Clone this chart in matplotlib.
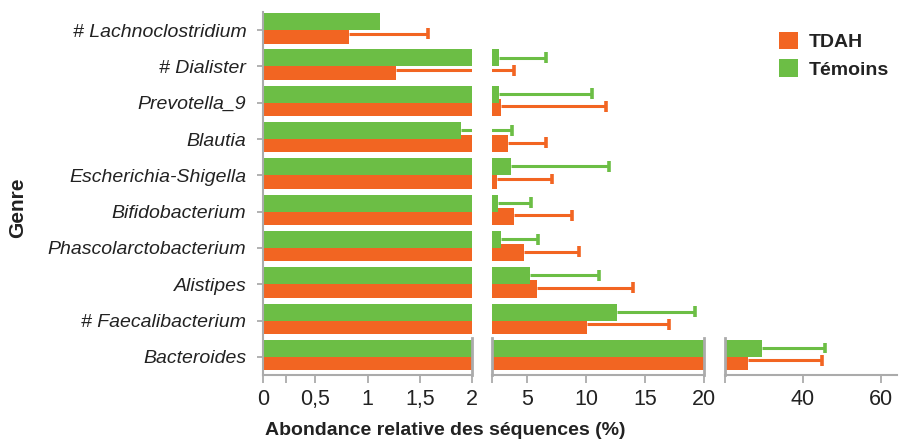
import numpy as np
import matplotlib
matplotlib.use("Agg")
import matplotlib.pyplot as plt
from matplotlib.patches import Patch

# ---- data ----
genera = ['# Lachnoclostridium', '# Dialister', 'Prevotella_9', 'Blautia',
          'Escherichia-Shigella', 'Bifidobacterium', 'Phascolarctobacterium',
          'Alistipes', '# Faecalibacterium', 'Bacteroides']
tdah = [0.82, 1.27, 2.8, 3.4, 2.4, 3.9, 4.7, 5.8, 10.1, 25.8]
tdah_upper = [1.58, 3.9, 11.7, 6.6, 7.1, 8.8, 9.4, 14.0, 17.0, 44.8]
temoins = [1.12, 2.6, 2.6, 1.89, 3.6, 2.5, 2.8, 5.2, 12.6, 29.4]
temoins_upper = [np.nan, 6.6, 10.5, 3.7, 11.9, 5.3, 5.9, 11.1, 19.2, 45.6]

series_labels = ['TDAH', 'Témoins']
panel_limits = [(0, 2), (2, 20), (20, 64.1)]
panel_ticks = [[0, 0.22, 0.5, 1, 1.5, 2], [2, 5, 10, 15, 20], [20, 40, 60]]
panel_ticklabels = [['0', '', '0,5', '1', '1,5', '2'], ['', '5', '10', '15', '20'], ['', '40', '60']]
xlabel = 'Abondance relative des séquences (%)'
ylabel = 'Genre'

ORANGE = '#F26522'
GREEN = '#6CBE45'
GRAY = '#ABABAB'
TXT = '#222222'

plt.rcParams['font.family'] = ['Liberation Sans', 'DejaVu Sans']

W, H = 899, 444
fig = plt.figure(figsize=(W / 100, H / 100), dpi=100)

def fx(px):
    return px / W

bottom = 1 - 375 / H
height = (375 - 12) / H
panel_px = [(263, 472), (492, 704), (725, 897)]

y = np.arange(len(genera))
g_h, o_top, o_bot = 0.468, 0.11, 0.37
cap = 0.15
err_lw = 2.2

axes = []
for k, ((x0, x1), lim) in enumerate(zip(panel_px, panel_limits)):
    ax = fig.add_axes([fx(x0), bottom, fx(x1 - x0), height])
    axes.append(ax)
    # orange (TDAH) under green (Témoins)
    ax.barh(y + (o_bot - o_top) / 2, tdah, height=o_top + o_bot, color=ORANGE,
            zorder=1, linewidth=0)
    ax.barh(y - g_h / 2, temoins, height=g_h, color=GREEN, zorder=2, linewidth=0)
    # one-sided error bars
    yo = y + 0.10
    yg = y - 0.245
    for vals, ups, yy, col in [(tdah, tdah_upper, yo, ORANGE), (temoins, temoins_upper, yg, GREEN)]:
        vals = np.asarray(vals, float)
        ups = np.asarray(ups, float)
        m = ~np.isnan(ups)
        ax.hlines(yy[m], vals[m], ups[m], color=col, lw=err_lw, zorder=3)
        ax.vlines(ups[m], yy[m] - cap, yy[m] + cap, color=col, lw=2.6, zorder=3)
    ax.set_xlim(*lim)
    ax.set_ylim(len(genera) - 0.5, -0.5)
    ax.set_xticks(panel_ticks[k])
    ax.set_xticklabels(panel_ticklabels[k])
    ax.tick_params(axis='x', length=6, width=1.3, color=GRAY, labelsize=15.5,
                   labelcolor=TXT, pad=4)
    for s in ax.spines.values():
        s.set_color(GRAY)
        s.set_linewidth(1.5)
    ax.spines['top'].set_visible(False)
    brk = (8.48, len(genera) - 0.5)
    if k == 0:
        ax.set_yticks(y)
        ax.set_yticklabels(genera, fontstyle='italic', fontsize=14, color=TXT)
        ax.tick_params(axis='y', length=4, width=1.3, color=GRAY, pad=8)
        ax.spines['right'].set_bounds(*brk)
        ax.spines['right'].set_linewidth(2)
    else:
        ax.set_yticks([])
        ax.spines['left'].set_bounds(*brk)
        ax.spines['left'].set_linewidth(2)
        if k == 1:
            ax.spines['right'].set_bounds(*brk)
            ax.spines['right'].set_linewidth(2)
        else:
            ax.spines['right'].set_visible(False)
    ax.set_facecolor('none')

fig.text(fx(445), 1 - 435 / H, xlabel, ha='center', va='baseline',
         fontsize=14, fontweight='bold', color=TXT)
fig.text(fx(18), 1 - 208 / H, ylabel, ha='center', va='center', rotation=90,
         fontsize=15, fontweight='bold', color=TXT)

handles = [Patch(facecolor=ORANGE, edgecolor='none'), Patch(facecolor=GREEN, edgecolor='none')]
leg = fig.legend(handles, series_labels, loc='upper left',
                 bbox_to_anchor=(fx(779), 1 - 32 / H), frameon=False,
                 borderpad=0, borderaxespad=0, handlelength=1.0, handleheight=1.0,
                 handletextpad=0.55, labelspacing=0.4,
                 prop={'weight': 'bold', 'size': 14})
for t in leg.get_texts():
    t.set_color(TXT)

fig.savefig('out.png', dpi=100)
